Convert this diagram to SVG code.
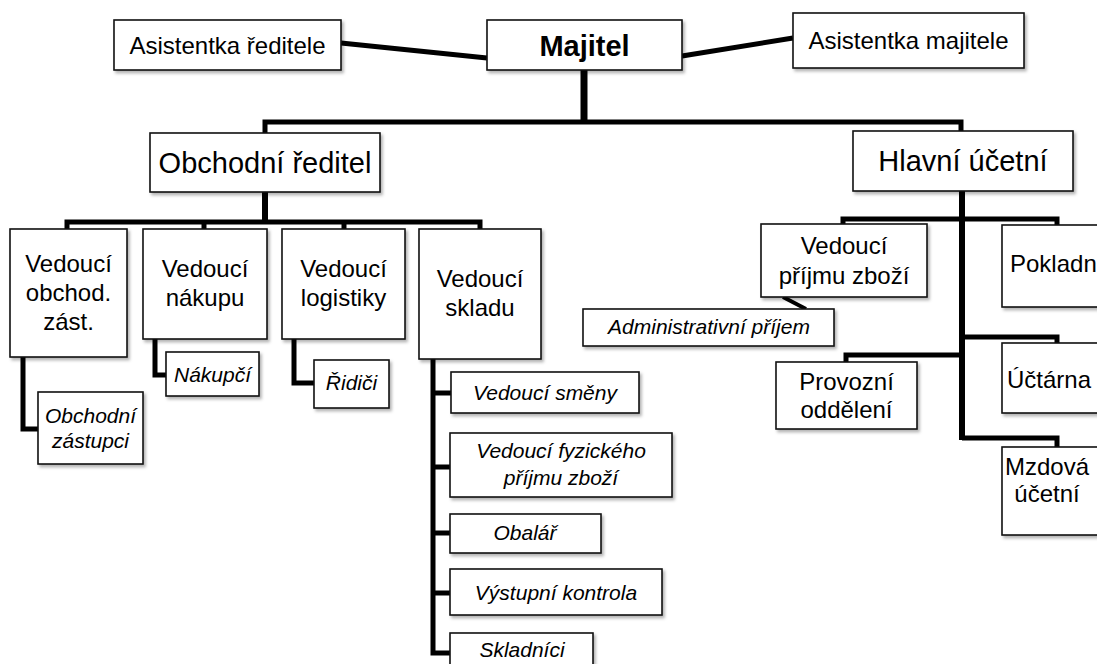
<svg xmlns="http://www.w3.org/2000/svg" width="1097" height="664" viewBox="0 0 1097 664">
<defs>
<filter id="sh" x="-10%" y="-10%" width="130%" height="140%">
<feDropShadow dx="2" dy="2.5" stdDeviation="1.5" flood-color="#000" flood-opacity="0.3"/>
</filter>
<style>
.b{fill:#fff;stroke:#111;stroke-width:1.6;filter:url(#sh)}
text{font-family:"Liberation Sans",Arial,sans-serif;fill:#000;text-anchor:middle}
.t{font-size:24px}
.h{font-size:29px}
.m{font-size:29px;font-weight:bold}
.i{font-size:21px;font-style:italic}
.c{fill:none;stroke:#000;stroke-width:5;stroke-linejoin:miter;stroke-linecap:butt}
</style>
</defs>
<rect width="1097" height="664" fill="#fff"/>
<g id="connectors">
<path class="c" d="M341,43 L487,58"/>
<path class="c" d="M682,56 L793,38"/>
<path class="c" style="stroke-width:7" d="M584,70 V124"/>
<path class="c" d="M265,133 V122 H961 V131"/>
<path class="c" style="stroke-width:6" d="M265,192 V222"/>
<path class="c" d="M67,229 V222 H480 V229 M204,222 V229 M344,222 V229"/>
<path class="c" d="M23,357 V429 H38"/>
<path class="c" d="M155,339 V375 H166"/>
<path class="c" d="M294,339 V383 H314"/>
<path class="c" d="M433,359 V653 H450 M433,393 H451 M433,467 H450 M433,533 H450 M433,593 H450"/>
<path class="c" style="stroke-width:4" d="M783,297 L806,309"/>
<path class="c" style="stroke-width:6" d="M962,191 V440"/>
<path class="c" d="M843,224 V219 H1057 V225"/>
<path class="c" d="M846,362 V355 H962"/>
<path class="c" d="M962,337 H1057 V343"/>
<path class="c" d="M962,438 H1057 V447"/>
</g>
<g id="asist-reditele"><rect class="b" x="114" y="20" width="227" height="50"/><text class="t" x="227.5" y="54">Asistentka ředitele</text></g>
<g id="majitel"><rect class="b" x="487" y="20" width="195" height="50"/><text class="m" x="584.5" y="56">Majitel</text></g>
<g id="asist-majitele"><rect class="b" x="793" y="13" width="231" height="55"/><text class="t" x="908.5" y="49">Asistentka majitele</text></g>
<g id="obchodni-reditel"><rect class="b" x="150" y="133" width="230" height="59"/><text class="h" x="265" y="173">Obchodní ředitel</text></g>
<g id="hlavni-ucetni"><rect class="b" x="853" y="131" width="220" height="60"/><text class="h" x="963" y="171">Hlavní účetní</text></g>
<g id="ved-obchod"><rect class="b" x="10" y="229" width="117" height="128"/><text class="t" x="68.5" y="272">Vedoucí</text><text class="t" x="68.5" y="301">obchod.</text><text class="t" x="68.5" y="330">zást.</text></g>
<g id="ved-nakupu"><rect class="b" x="143" y="229" width="124" height="110"/><text class="t" x="205" y="277">Vedoucí</text><text class="t" x="205" y="306">nákupu</text></g>
<g id="ved-logistiky"><rect class="b" x="282" y="229" width="123" height="110"/><text class="t" x="343.5" y="277">Vedoucí</text><text class="t" x="343.5" y="306">logistiky</text></g>
<g id="ved-skladu"><rect class="b" x="419" y="229" width="122" height="130"/><text class="t" x="480" y="287">Vedoucí</text><text class="t" x="480" y="316">skladu</text></g>
<g id="obch-zastupci"><rect class="b" x="38" y="392" width="105" height="72"/><text class="i" x="90.5" y="423">Obchodní</text><text class="i" x="90.5" y="448">zástupci</text></g>
<g id="nakupci"><rect class="b" x="166" y="352" width="93" height="44"/><text class="i" x="212.5" y="382">Nákupčí</text></g>
<g id="ridici"><rect class="b" x="314" y="360" width="75" height="48"/><text class="i" x="351.5" y="390">Řidiči</text></g>
<g id="ved-smeny"><rect class="b" x="451" y="372" width="188" height="41"/><text class="i" x="545" y="400">Vedoucí směny</text></g>
<g id="ved-fyz"><rect class="b" x="450" y="433" width="222" height="64"/><text class="i" x="561" y="458">Vedoucí fyzického</text><text class="i" x="561" y="485">příjmu zboží</text></g>
<g id="obalar"><rect class="b" x="450" y="514" width="151" height="39"/><text class="i" x="525" y="540">Obalář</text></g>
<g id="vystupni"><rect class="b" x="450" y="569" width="212" height="46"/><text class="i" x="556" y="600">Výstupní kontrola</text></g>
<g id="skladnici"><rect class="b" x="450" y="633" width="143" height="40"/><text class="i" x="522" y="657">Skladníci</text></g>
<g id="ved-prijmu"><rect class="b" x="761" y="224" width="166" height="73"/><text class="t" x="844" y="254">Vedoucí</text><text class="t" x="844" y="284">příjmu zboží</text></g>
<g id="admin-prijem"><rect class="b" x="583" y="309" width="251" height="37"/><text class="i" x="709" y="334">Administrativní příjem</text></g>
<g id="provozni"><rect class="b" x="776" y="362" width="141" height="67"/><text class="t" x="846.5" y="390">Provozní</text><text class="t" x="846.5" y="418">oddělení</text></g>
<g id="pokladna"><rect class="b" x="1002" y="225" width="120" height="82"/><text class="t" x="1010" y="272" style="text-anchor:start">Pokladna</text></g>
<g id="uctarna"><rect class="b" x="1002" y="343" width="120" height="70"/><text class="t" x="1007" y="388" style="text-anchor:start">Účtárna</text></g>
<g id="mzdova"><rect class="b" x="1002" y="447" width="120" height="88"/><text class="t" x="1047" y="475">Mzdová</text><text class="t" x="1047" y="502">účetní</text></g>
</svg>
